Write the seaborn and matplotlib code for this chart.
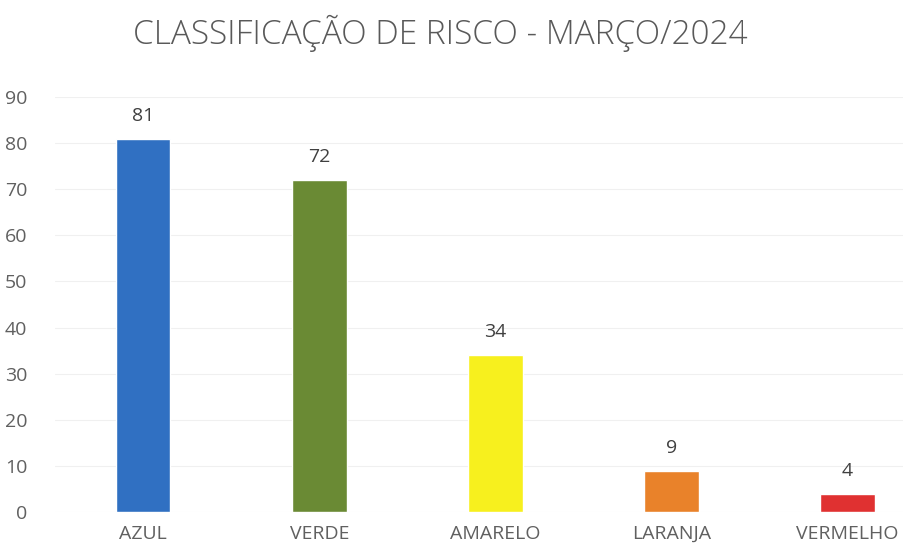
import matplotlib
matplotlib.use('Agg')
import matplotlib.pyplot as plt
import seaborn as sns
import pandas as pd

# Dados do gráfico
categorias = ['AZUL', 'VERDE', 'AMARELO', 'LARANJA', 'VERMELHO']
valores = [81, 72, 34, 9, 4]
cores = ['#3070c2', '#6a8a34', '#f7f01e', '#e9822a', '#e03131']
titulo = 'CLASSIFICAÇÃO DE RISCO - MARÇO/2024'

df = pd.DataFrame({'Risco': categorias, 'Pacientes': valores})

sns.set_style('white')
plt.rcParams['font.family'] = ['Open Sans', 'DejaVu Sans']

fig = plt.figure(figsize=(9.04, 5.54), dpi=100)
ax = fig.add_axes([0.061, 0.0758, 0.939, 0.749])

sns.barplot(data=df, x='Risco', y='Pacientes', hue='Risco', palette=cores,
            width=0.31, legend=False, ax=ax, saturation=1)

ax.set_ylim(0, 90)
ax.set_xlim(-0.5, 4.32)
ax.set_yticks(range(0, 91, 10))
ax.grid(axis='y', color='#f0f0f0', linewidth=0.8)
ax.set_axisbelow(True)
for s in ax.spines.values():
    s.set_visible(False)

ax.tick_params(axis='both', length=0, labelsize=14, labelcolor='#606060')
ax.tick_params(axis='y', pad=20)
ax.tick_params(axis='x', pad=9)
ax.set_xlabel('')
ax.set_ylabel('')

# Rótulos de valor
for i, v in enumerate(valores):
    ax.annotate(str(v), (i, v), xytext=(0, 10), textcoords='offset points',
                ha='center', va='bottom', fontsize=14, color='#404040')

fig.text(0.487, 0.94, titulo, ha='center', va='center', fontsize=24,
         color='#595959', fontweight='light')

fig.savefig('out.png', dpi=100)
